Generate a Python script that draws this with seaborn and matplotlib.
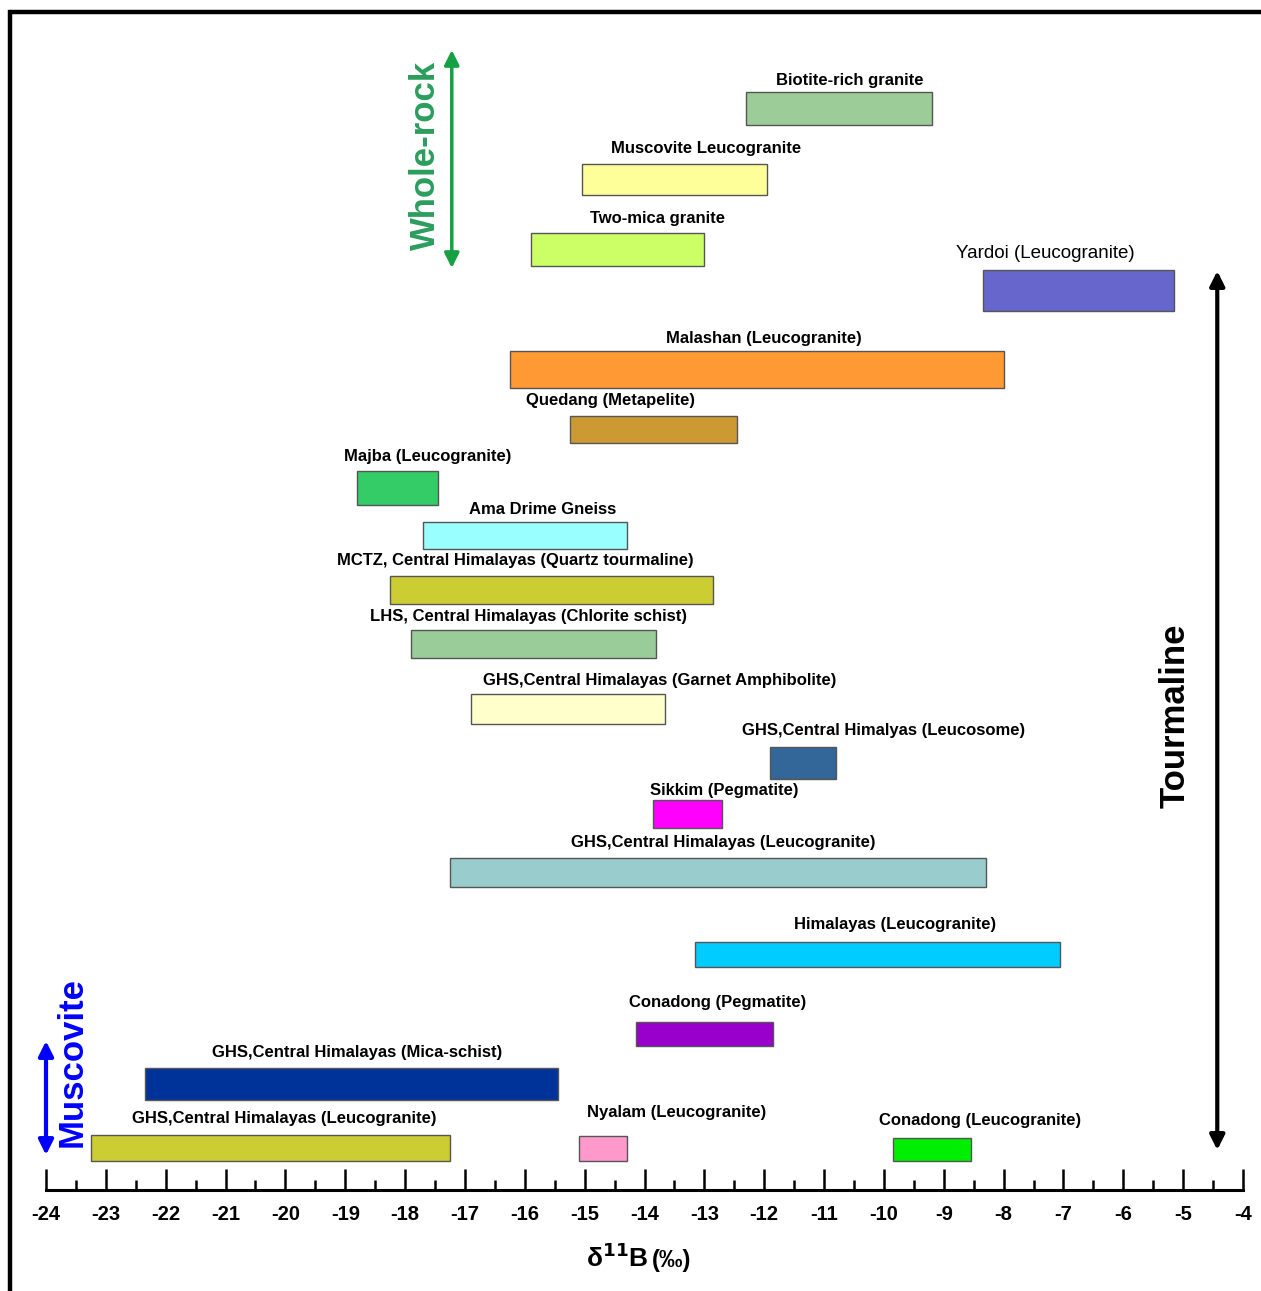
import matplotlib
matplotlib.use('Agg')
import matplotlib.pyplot as plt
import matplotlib.transforms as mtransforms
from matplotlib.patches import Rectangle
from matplotlib.ticker import MultipleLocator
import seaborn as sns

sns.set_style('white')
plt.rcParams['font.family'] = ['Liberation Sans', 'DejaVu Sans']
plt.rcParams['axes.unicode_minus'] = False
plt.rcParams['text.color'] = 'black'
plt.rcParams['xtick.color'] = 'black'
narrow = ['Liberation Sans Narrow', 'Liberation Sans', 'DejaVu Sans']

# delta 11B ranges (permil)
names = ['Biotite-rich granite', 'Muscovite Leucogranite', 'Two-mica granite',
         'Yardoi (Leucogranite)', 'Malashan (Leucogranite)', 'Quedang (Metapelite)',
         'Majba (Leucogranite)', 'Ama Drime Gneiss',
         'MCTZ, Central Himalayas (Quartz tourmaline)',
         'LHS, Central Himalayas (Chlorite schist)',
         'GHS,Central Himalayas (Garnet Amphibolite)',
         'GHS,Central Himalyas (Leucosome)', 'Sikkim (Pegmatite)',
         'GHS,Central Himalayas (Leucogranite)', 'Himalayas (Leucogranite)',
         'Conadong (Pegmatite)', 'GHS,Central Himalayas (Mica-schist)',
         'GHS,Central Himalayas (Leucogranite)', 'Nyalam (Leucogranite)',
         'Conadong (Leucogranite)']
low = [-12.3, -15.05, -15.9, -8.35, -16.25, -15.25, -18.8, -17.7, -18.25, -17.9,
       -16.9, -11.9, -13.85, -17.25, -13.15, -14.15, -22.35, -23.25, -15.1, -9.85]
high = [-9.2, -11.95, -13.0, -5.15, -8.0, -12.45, -17.45, -14.3, -12.85, -13.8,
        -13.65, -10.8, -12.7, -8.3, -7.05, -11.85, -15.45, -17.25, -14.3, -8.55]
colors = ['#9ccc98', '#ffff99', '#ccff66', '#6666cc', '#ff9933', '#cc9933',
          '#33cc66', '#99ffff', '#cccc33', '#99cc99', '#ffffcc', '#336699',
          '#ff00ff', '#99cccc', '#00ccff', '#9900cc', '#003399', '#cccc33',
          '#ff99cc', '#00ee00']

# layout: vertical row placement (top-down units), label anchors
row_top = [92, 164, 233, 270, 351, 416, 471, 522, 576, 630, 694, 747, 800, 858,
           942, 1022, 1068, 1135, 1136, 1138]
row_bot = [125, 195, 266, 311, 388, 443, 505, 549, 604, 658, 724, 779, 828, 887,
           967, 1046, 1100, 1161, 1161, 1161]
label_x = [-10.57, -12.97, -13.79, -7.31, -12.0, -14.56, -17.63, -15.71, -16.16,
           -15.93, -13.74, -10.0, -12.67, -12.69, -9.81, -12.77, -18.8, -20.02,
           -13.47, -8.39]
label_y = [80, 149, 218, 253, 338, 401, 457, 510, 561, 617, 681, 731, 791, 842,
           924, 1003, 1052, 1118, 1113, 1120]

W, H = 1261, 1291
fig = plt.figure(figsize=(W / 100, H / 100), dpi=100)
ax = fig.add_axes([46 / W, (H - 1190) / H, (1243 - 46) / W, (1190 - 12) / H])
ax.set_xlim(-24, -4)
ax.set_ylim(1190, 12)

centers = [(t + b) / 2 for t, b in zip(row_top, row_bot)]
heights = [b - t for t, b in zip(row_top, row_bot)]
widths = [h - l for l, h in zip(low, high)]
ax.barh(centers, widths, height=heights, left=low, color=colors,
        edgecolor='#555555', linewidth=1.0)

for i, name in enumerate(names):
    if name.startswith('Yardoi'):
        ax.text(label_x[i], label_y[i], name, ha='center', va='center',
                fontsize=13.5, family=narrow)
    else:
        ax.text(label_x[i], label_y[i], name, ha='center', va='center',
                fontsize=12, fontweight='bold')

# group arrows
ax.annotate('', xy=(-17.22, 50), xytext=(-17.22, 268),
            arrowprops=dict(arrowstyle='<|-|>', color='#14a043', lw=2.5,
                            mutation_scale=22, shrinkA=0, shrinkB=0),
            annotation_clip=False)
ax.text(-17.66, 155, 'Whole-rock', rotation=90, ha='center', va='center',
        fontsize=25, fontweight='bold', color='#2a9d5c')

ax.annotate('', xy=(-4.43, 271), xytext=(-4.43, 1150),
            arrowprops=dict(arrowstyle='<|-|>', color='black', lw=3,
                            mutation_scale=22, shrinkA=0, shrinkB=0),
            annotation_clip=False)
ax.text(-5.14, 716, 'Tourmaline', rotation=90, ha='center', va='center',
        fontsize=25, fontweight='bold', color='black')

ax.annotate('', xy=(-24.0, 1041), xytext=(-24.0, 1155),
            arrowprops=dict(arrowstyle='<|-|>', color='#0000ff', lw=3,
                            mutation_scale=22, shrinkA=0, shrinkB=0),
            annotation_clip=False)
ax.text(-23.57, 1062, 'Muscovite', rotation=90, ha='center', va='center',
        fontsize=25, fontweight='bold', color='#0000ff')

# x axis
for s in ['top', 'left', 'right']:
    ax.spines[s].set_visible(False)
ax.spines['bottom'].set_linewidth(2.2)
ax.spines['bottom'].set_color('black')
ax.xaxis.set_major_locator(MultipleLocator(1))
ax.xaxis.set_minor_locator(MultipleLocator(0.5))
ax.tick_params(axis='x', which='major', direction='in', length=15, width=1.8,
               pad=11, bottom=True)
ax.tick_params(axis='x', which='minor', direction='in', length=7.5, width=1.8,
               bottom=True)
ax.set_yticks([])
for lab in ax.get_xticklabels():
    lab.set_fontweight('bold')
    lab.set_family(narrow)
    lab.set_fontsize(14.5)

trans = mtransforms.blended_transform_factory(ax.transData, fig.transFigure)
ax.text(-13.93, 1 - 1258 / H, r'δ$^{\mathbf{11}}$B', transform=trans, ha='right',
        va='center', fontsize=19, fontweight='bold')
ax.text(-13.88, 1 - 1261 / H, '(‰)', transform=trans, ha='left', va='center',
        fontsize=17, fontweight='bold')

# outer frame
fig.patches.append(Rectangle((10 / W, -0.05), 1.1, 1 - 12 / H + 0.05,
                             transform=fig.transFigure, fill=False,
                             edgecolor='black', linewidth=3.2))

plt.savefig('out.png', dpi=100)
